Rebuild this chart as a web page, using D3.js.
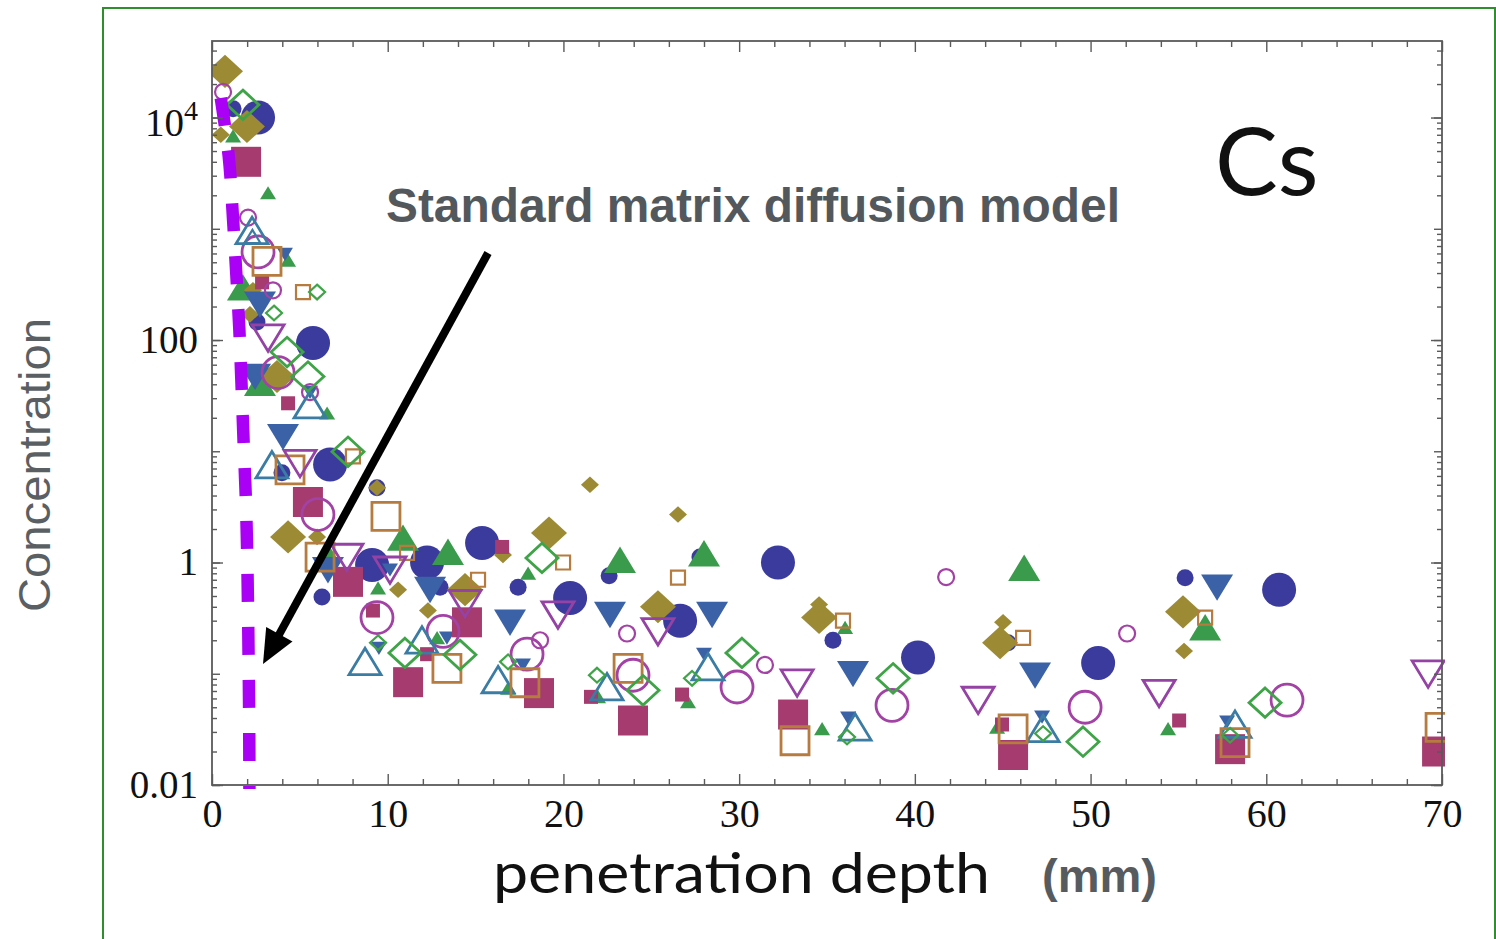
<!DOCTYPE html>
<html>
<head>
<meta charset="utf-8">
<script src="https://cdn.jsdelivr.net/npm/d3@7"></script>
<style>
  html, body { margin: 0; padding: 0; background: #ffffff; }
  svg { display: block; }
</style>
</head>
<body>
<svg id="chart" width="1496" height="939"></svg>
<script>
// ---- axis ticks ----
const xTickValues = [0, 10, 20, 30, 40, 50, 60, 70];
const yLabelledTicks = [0.01, 1, 100, 10000];

// ---- measured Cs profiles: [penetration depth (mm), concentration] ----
const navyDiscLarge = [[2.62, 1.0e4], [5.75, 94], [6.72, 7.6], [9.11, 0.95], [12.24, 1.0], [15.37, 1.5],
  [20.38, 0.48], [26.64, 0.30], [32.21, 1.0], [40.18, 0.14], [50.43, 0.125], [60.73, 0.57]];
const navyDiscSmall = [[1.2, 1.2e4], [2.56, 145], [3.98, 6.4], [9.39, 4.7], [6.26, 0.49], [12.98, 0.60],
  [17.42, 0.60], [22.6, 0.76], [27.77, 1.12], [35.34, 0.20], [45.3, 0.19], [55.38, 0.73]];
const greenTriangleLarge = [[1.76, 295], [2.73, 41], [10.87, 1.66], [13.43, 1.24], [23.22, 1.05],
  [28.0, 1.2], [46.22, 0.89], [56.52, 0.26]];
const greenTriangleSmall = [[3.19, 2.1e3], [6.55, 22], [12.81, 0.21], [16.85, 0.074], [21.97, 0.062],
  [27.09, 0.056], [34.72, 0.032], [44.68, 0.033], [54.41, 0.032], [9.45, 0.59], [36.03, 0.26],
  [17.99, 0.80], [1.2, 6.8e3], [4.33, 520], [6.72, 1.2]];
const oliveDiamondLarge = [[0.74, 2.6e4], [1.99, 8.3e3], [4.33, 1.7], [19.18, 1.84], [25.38, 0.40],
  [34.55, 0.32], [44.85, 0.19], [55.26, 0.36], [14.4, 0.57], [3.7, 47]];
const oliveDiamondSmall = [[0.5, 7e3], [2.33, 280], [2.16, 170], [5.98, 1.7], [9.39, 4.7], [16.56, 1.17],
  [12.29, 0.37], [10.59, 0.57], [21.51, 5.0], [26.52, 2.7], [34.55, 0.42], [45.02, 0.29], [55.32, 0.16]];
const crimsonSquareLarge = [[1.94, 4.0e3], [5.46, 3.5], [7.74, 0.67], [11.16, 0.084], [14.51, 0.29],
  [18.61, 0.067], [23.96, 0.038], [33.07, 0.043], [45.59, 0.0186], [57.94, 0.021], [69.72, 0.020]];
const crimsonSquareSmall = [[4.33, 27], [2.85, 330], [9.16, 0.37], [12.24, 0.15], [16.51, 1.38],
  [21.57, 0.062], [26.75, 0.065], [44.96, 0.035], [55.04, 0.038]];
const steelTriangleDownLarge = [[4.04, 13.5], [12.41, 0.57], [16.96, 0.29], [22.65, 0.34], [28.46, 0.34],
  [36.48, 0.10], [46.84, 0.097], [57.2, 0.60], [6.6, 0.86], [2.73, 210], [2.45, 47]];
const steelTriangleDownSmall = [[4.15, 590], [5.58, 34], [9.5, 0.17], [13.37, 0.21], [17.7, 0.12],
  [28.0, 0.15], [36.2, 0.040], [47.24, 0.041], [57.77, 0.037], [10.13, 0.86]];
const openCircleLarge = [[2.62, 620], [3.76, 51], [6.03, 2.7], [9.39, 0.32], [13.15, 0.24], [17.93, 0.15],
  [23.96, 0.097], [29.88, 0.076], [38.7, 0.052], [49.69, 0.050], [61.18, 0.058]];
const openCircleSmall = [[0.63, 1.7e4], [2.05, 1.26e3], [3.47, 280], [5.58, 34], [18.67, 0.20],
  [23.62, 0.23], [31.47, 0.12], [41.78, 0.74], [52.08, 0.23]];
const openTriangleUpLarge = [[2.28, 960], [5.58, 26], [3.41, 7.5], [8.71, 0.128], [11.95, 0.20],
  [16.28, 0.088], [22.48, 0.076], [28.23, 0.115], [36.6, 0.033], [47.3, 0.032], [58.22, 0.035]];
const openTriangleUpSmall = [[2.3, 850]];
const openSquareLarge = [[3.13, 510], [4.44, 6.8], [9.9, 2.6], [6.15, 1.12], [13.37, 0.112], [17.81, 0.083],
  [23.68, 0.112], [33.18, 0.025], [45.59, 0.032], [58.22, 0.024], [69.89, 0.033]];
const openSquareSmall = [[5.18, 270], [8.02, 9.0], [11.1, 1.22], [15.14, 0.70], [19.98, 1.0], [26.52, 0.73],
  [35.91, 0.30], [46.16, 0.21], [56.52, 0.32]];
const openDiamondLarge = [[1.76, 1.3e4], [4.27, 78], [5.46, 47], [7.74, 9.9], [10.98, 0.154], [14.11, 0.148],
  [18.78, 1.1], [24.53, 0.071], [30.16, 0.154], [38.76, 0.091], [49.57, 0.0245], [59.93, 0.055]];
const openDiamondSmall = [[5.98, 270], [3.53, 175], [9.45, 0.19], [16.85, 0.128], [21.91, 0.097],
  [27.32, 0.091], [36.14, 0.027], [47.3, 0.029], [57.94, 0.028]];
const openTriangleDownLarge = [[3.19, 105], [5.01, 7.8], [7.68, 1.12], [10.13, 0.86], [14.4, 0.43],
  [19.69, 0.34], [25.38, 0.24], [33.3, 0.083], [43.6, 0.058], [53.9, 0.067], [69.21, 0.10]];

// standard matrix diffusion model prediction
const modelCurve = [[0.5, 1.5e4], [0.95, 4.5e3], [1.2, 1.2e3], [1.38, 400], [1.55, 130], [1.68, 40],
  [1.8, 12], [1.92, 4], [1.99, 1.5], [2.04, 0.5], [2.08, 0.15], [2.11, 0.05], [2.13, 0.0092]];

// ---- layout ----
const svg = d3.select('#chart');
const plot = { left: 212, right: 1442, top: 41, bottom: 785 };
const x = d3.scaleLinear().domain([0, 70]).range([plot.left, plot.right]);
const y = d3.scaleLog().domain([0.01, Math.pow(10, 4.688)]).range([plot.bottom, plot.top]);

const serif = '"Liberation Serif", "Times New Roman", serif';
const sans = '"Liberation Sans", Arial, sans-serif';
const frameColor = '#5a5a5a';

// outer green border
svg.append('rect').attr('x', 103).attr('y', 8).attr('width', 1392).attr('height', 960)
  .attr('fill', 'none').attr('stroke', '#2f8f2f').attr('stroke-width', 2);

// ---- marker shapes ----
const shapes = {
  circle: s => `M${-s},0A${s},${s} 0 1,0 ${s},0A${s},${s} 0 1,0 ${-s},0Z`,
  triUp: s => `M0,${-s * 0.85}L${s},${s * 0.8}L${-s},${s * 0.8}Z`,
  triDown: s => `M0,${s * 0.85}L${s},${-s * 0.8}L${-s},${-s * 0.8}Z`,
  square: s => `M${-s},${-s}H${s}V${s}H${-s}Z`,
  diamond: s => `M0,${-s * 0.92}L${s},0L0,${s * 0.92}L${-s},0Z`
};

const seriesStyles = [
  { data: navyDiscLarge, shape: 'circle', size: 17, fill: '#3b3b9e' },
  { data: navyDiscSmall, shape: 'circle', size: 8.5, fill: '#3b3b9e' },
  { data: greenTriangleLarge, shape: 'triUp', size: 16, fill: '#3a9b4c' },
  { data: greenTriangleSmall, shape: 'triUp', size: 8, fill: '#3a9b4c' },
  { data: oliveDiamondLarge, shape: 'diamond', size: 18, fill: '#9c8b34' },
  { data: oliveDiamondSmall, shape: 'diamond', size: 9, fill: '#9c8b34' },
  { data: steelTriangleDownLarge, shape: 'triDown', size: 16, fill: '#3b62a6' },
  { data: steelTriangleDownSmall, shape: 'triDown', size: 8, fill: '#3b62a6' },
  { data: crimsonSquareLarge, shape: 'square', size: 15, fill: '#a53b6f' },
  { data: crimsonSquareSmall, shape: 'square', size: 7, fill: '#a53b6f' },
  { data: openCircleLarge, shape: 'circle', size: 16, stroke: '#a342a5', width: 2.8 },
  { data: openCircleSmall, shape: 'circle', size: 8, stroke: '#a342a5', width: 2.2 },
  { data: openTriangleUpLarge, shape: 'triUp', size: 16, stroke: '#3b7ca4', width: 2.8 },
  { data: openTriangleUpSmall, shape: 'triUp', size: 8, stroke: '#3b7ca4', width: 2.2 },
  { data: openSquareLarge, shape: 'square', size: 14, stroke: '#b57b3f', width: 2.8 },
  { data: openSquareSmall, shape: 'square', size: 7, stroke: '#b57b3f', width: 2.2 },
  { data: openDiamondLarge, shape: 'diamond', size: 16, stroke: '#3ea447', width: 2.8 },
  { data: openDiamondSmall, shape: 'diamond', size: 8, stroke: '#3ea447', width: 2.2 },
  { data: openTriangleDownLarge, shape: 'triDown', size: 16, stroke: '#9542a5', width: 2.8 }
];

// clip region for the data
svg.append('defs').append('clipPath').attr('id', 'plotClip')
  .append('rect').attr('x', plot.left).attr('y', plot.top)
  .attr('width', plot.right - plot.left + 3).attr('height', plot.bottom - plot.top);

const marks = svg.append('g').attr('clip-path', 'url(#plotClip)');
seriesStyles.forEach(st => {
  marks.append('g').selectAll('path').data(st.data).join('path')
    .attr('transform', d => `translate(${x(d[0])},${y(d[1])})`)
    .attr('d', shapes[st.shape](st.size))
    .attr('fill', st.fill || 'none')
    .attr('stroke', st.stroke || 'none')
    .attr('stroke-width', st.width || 0);
});

// model curve (thick dashed)
svg.append('path').datum(modelCurve)
  .attr('d', d3.line().x(d => x(d[0])).y(d => y(d[1])).curve(d3.curveMonotoneY))
  .attr('fill', 'none').attr('stroke', '#aa00f5').attr('stroke-width', 12.5)
  .attr('stroke-dasharray', '28 25');

// ---- frame and ticks ----
const xMinor = d3.range(0, 71, 2).filter(v => v % 10 !== 0);
const yAll = y.ticks().filter(v => v >= 0.01);
const yMajor = yAll.filter(v => Math.abs(Math.log10(v) - Math.round(Math.log10(v))) < 1e-9);
const yMinor = yAll.filter(v => !yMajor.includes(v));

function styleAxis(g) {
  g.select('.domain').remove();
  g.selectAll('.tick line').attr('stroke', frameColor).attr('stroke-width', 1.4);
}

// bottom
svg.append('g').attr('transform', `translate(0,${plot.bottom})`)
  .call(d3.axisBottom(x).tickValues(xMinor).tickSize(-6).tickFormat('')).call(styleAxis);
const gx = svg.append('g').attr('transform', `translate(0,${plot.bottom})`)
  .call(d3.axisBottom(x).tickValues(xTickValues).tickSize(-11).tickPadding(14).tickFormat(d3.format('d')))
  .call(styleAxis);
gx.selectAll('.tick text').attr('font-family', serif).attr('font-size', 40).attr('fill', '#111');

// top
svg.append('g').attr('transform', `translate(0,${plot.top})`)
  .call(d3.axisTop(x).tickValues(xMinor).tickSize(-6).tickFormat('')).call(styleAxis);
svg.append('g').attr('transform', `translate(0,${plot.top})`)
  .call(d3.axisTop(x).tickValues(xTickValues).tickSize(-11).tickFormat('')).call(styleAxis);

// left
svg.append('g').attr('transform', `translate(${plot.left},0)`)
  .call(d3.axisLeft(y).tickValues(yMinor).tickSize(-5).tickFormat('')).call(styleAxis);
svg.append('g').attr('transform', `translate(${plot.left},0)`)
  .call(d3.axisLeft(y).tickValues(yMajor).tickSize(-8).tickFormat('')).call(styleAxis);
const gy = svg.append('g').attr('transform', `translate(${plot.left},0)`)
  .call(d3.axisLeft(y).tickValues(yLabelledTicks).tickSize(-11).tickPadding(14)
    .tickFormat(d => d === 10000 ? '' : (d < 1 ? String(d) : d3.format('d')(d))))
  .call(styleAxis);
gy.selectAll('.tick text').attr('font-family', serif).attr('font-size', 39).attr('fill', '#111');
gy.selectAll('.tick text').filter(d => d === 10000)
  .attr('dy', '0.45em')
  .each(function () {
    const t = d3.select(this);
    t.append('tspan').text('10');
    t.append('tspan').attr('dy', '-0.55em').attr('font-size', 28).text('4');
  });

// right
svg.append('g').attr('transform', `translate(${plot.right},0)`)
  .call(d3.axisRight(y).tickValues(yMinor).tickSize(-5).tickFormat('')).call(styleAxis);
svg.append('g').attr('transform', `translate(${plot.right},0)`)
  .call(d3.axisRight(y).tickValues(yMajor).tickSize(-8).tickFormat('')).call(styleAxis);
svg.append('g').attr('transform', `translate(${plot.right},0)`)
  .call(d3.axisRight(y).tickValues(yLabelledTicks).tickSize(-11).tickFormat('')).call(styleAxis);

svg.append('rect').attr('x', plot.left).attr('y', plot.top)
  .attr('width', plot.right - plot.left).attr('height', plot.bottom - plot.top)
  .attr('fill', 'none').attr('stroke', frameColor).attr('stroke-width', 1.8);

// ---- titles and annotations ----
svg.append('text').attr('x', 493).attr('y', 893)
  .attr('font-family', 'Lato, "Open Sans", sans-serif').attr('font-size', 56).attr('fill', '#111')
  .attr('textLength', 497).attr('lengthAdjust', 'spacingAndGlyphs')
  .text('penetration depth');

svg.append('text').attr('x', 1042).attr('y', 892)
  .attr('font-family', sans).attr('font-weight', 'bold').attr('font-size', 47).attr('fill', '#565b60')
  .attr('textLength', 115).attr('lengthAdjust', 'spacingAndGlyphs')
  .text('(mm)');

svg.append('text').attr('transform', 'translate(50,465) rotate(-90)')
  .attr('text-anchor', 'middle')
  .attr('font-family', sans).attr('font-size', 44).attr('fill', '#5a5f64')
  .attr('textLength', 294).attr('lengthAdjust', 'spacingAndGlyphs')
  .text('Concentration');

svg.append('text').attr('x', 1215).attr('y', 195)
  .attr('font-family', 'Lato, "Open Sans", sans-serif').attr('font-size', 94).attr('fill', '#111')
  .text('Cs');

svg.append('text').attr('x', 386).attr('y', 222)
  .attr('font-family', sans).attr('font-weight', 'bold').attr('font-size', 48).attr('fill', '#53585d')
  .attr('textLength', 734).attr('lengthAdjust', 'spacingAndGlyphs')
  .text('Standard matrix diffusion model');

// arrow pointing at the model curve
const arrowFrom = [488, 253], arrowTip = [263, 664];
const dx = arrowTip[0] - arrowFrom[0], dy = arrowTip[1] - arrowFrom[1];
const len = Math.hypot(dx, dy), ux = dx / len, uy = dy / len;
const headLen = 34, headHalf = 15;
const base = [arrowTip[0] - ux * headLen, arrowTip[1] - uy * headLen];
svg.append('line')
  .attr('x1', arrowFrom[0]).attr('y1', arrowFrom[1])
  .attr('x2', base[0] + ux * 4).attr('y2', base[1] + uy * 4)
  .attr('stroke', '#000').attr('stroke-width', 8);
svg.append('path')
  .attr('d', `M${arrowTip[0]},${arrowTip[1]}L${base[0] - uy * headHalf},${base[1] + ux * headHalf}L${base[0] + uy * headHalf},${base[1] - ux * headHalf}Z`)
  .attr('fill', '#000');
</script>
